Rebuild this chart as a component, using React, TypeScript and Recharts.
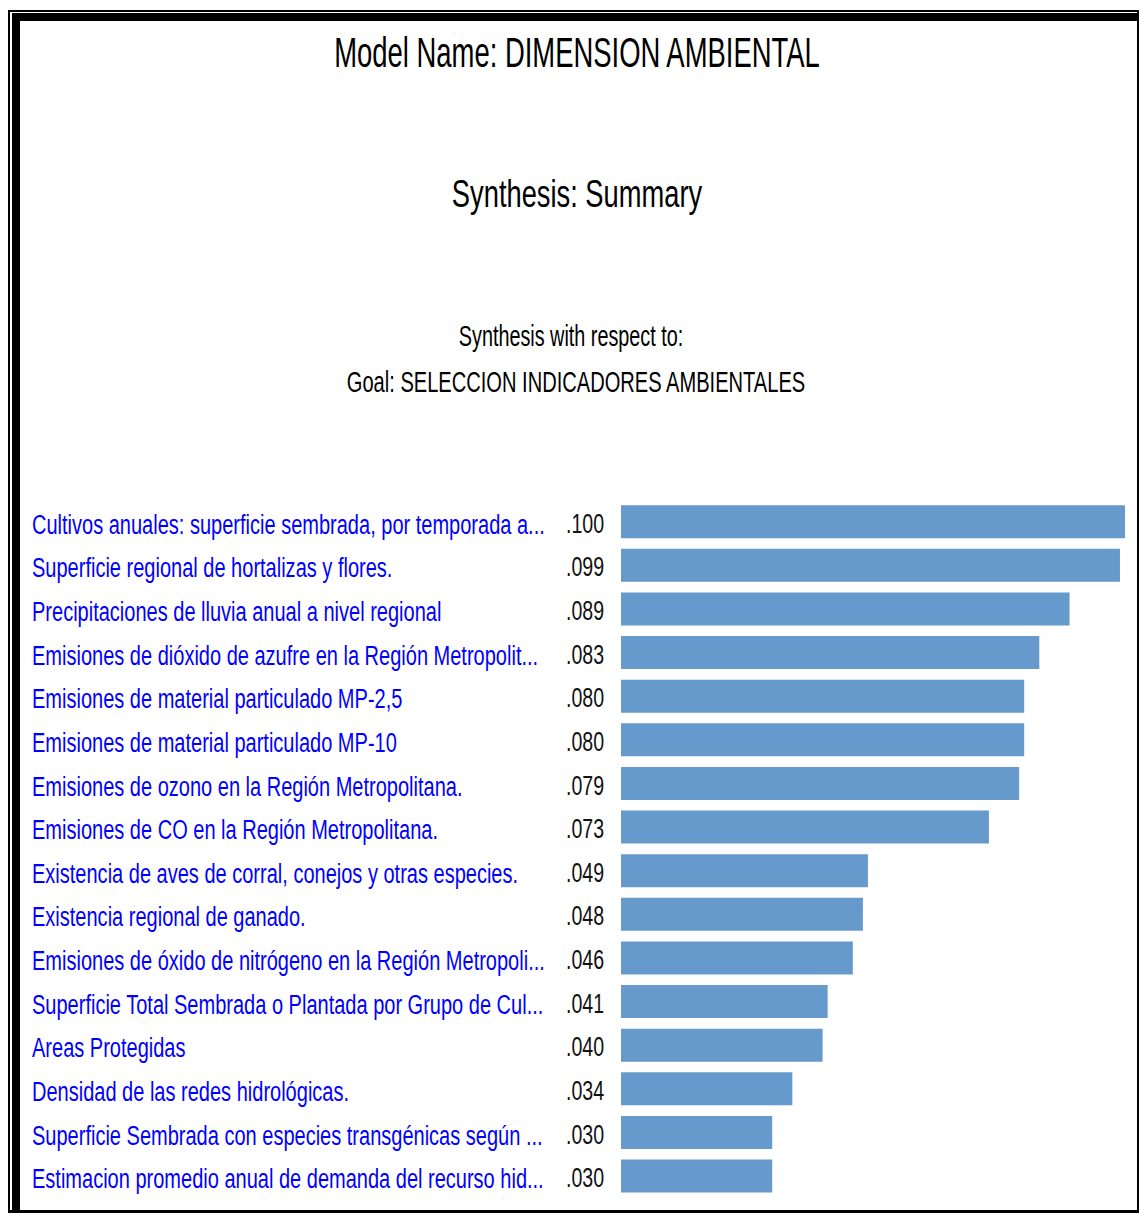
import React from "react";
import { BarChart, Bar, XAxis, YAxis } from "recharts";

const categories: string[] = [
  "Cultivos anuales: superficie sembrada, por temporada a...",
  "Superficie regional de hortalizas y flores.",
  "Precipitaciones de lluvia anual a nivel regional",
  "Emisiones de dióxido de azufre en la Región Metropolit...",
  "Emisiones de material particulado MP-2,5",
  "Emisiones de material particulado MP-10",
  "Emisiones de ozono en la Región Metropolitana.",
  "Emisiones de CO en la Región Metropolitana.",
  "Existencia de aves de corral, conejos y otras especies.",
  "Existencia regional de ganado.",
  "Emisiones de óxido de nitrógeno en la Región Metropoli...",
  "Superficie Total Sembrada o Plantada por Grupo de Cul...",
  "Areas Protegidas",
  "Densidad de las redes hidrológicas.",
  "Superficie Sembrada con especies transgénicas según ...",
  "Estimacion promedio anual de demanda del recurso hid...",
];

const values: number[] = [
  0.1, 0.099, 0.089, 0.083, 0.08, 0.08, 0.079, 0.073, 0.049, 0.048, 0.046,
  0.041, 0.04, 0.034, 0.03, 0.03,
];

const valueLabels: string[] = [
  ".100", ".099", ".089", ".083", ".080", ".080", ".079", ".073", ".049",
  ".048", ".046", ".041", ".040", ".034", ".030", ".030",
];

const titleLines: string[] = [
  "Model Name: DIMENSION AMBIENTAL",
  "Synthesis: Summary",
  "Synthesis with respect to:",
  "Goal: SELECCION INDICADORES AMBIENTALES",
];

const data = categories.map((name, i) => ({
  name,
  value: values[i],
}));

const FONT = '"Liberation Sans", Arial, Helvetica, sans-serif';

const SText = ({
  x,
  y,
  sx,
  size,
  fill,
  anchor,
  children,
}: {
  x: number;
  y: number;
  sx: number;
  size: number;
  fill: string;
  anchor: "start" | "middle" | "end";
  children: React.ReactNode;
}) => (
  <text
    transform={`translate(${x},${y}) scale(${sx},1)`}
    x={0}
    y={0}
    fill={fill}
    fontSize={size}
    fontFamily={FONT}
    textAnchor={anchor}
  >
    {children}
  </text>
);

const Tick = (props: any) => {
  const { y, payload } = props;
  const idx = payload.index;
  return (
    <g>
      <SText x={32} y={y + 12} sx={0.715} size={28} fill="#0000ff" anchor="start">
        {payload.value}
      </SText>
      <SText x={566} y={y + 11} sx={0.7} size={28} fill="#111" anchor="start">
        {valueLabels[idx]}
      </SText>
    </g>
  );
};

export default function App() {
  return (
    <div
      style={{
        position: "absolute",
        left: 0,
        top: 0,
        width: 1139,
        height: 1213,
        background: "#fff",
        overflow: "hidden",
      }}
    >
      <div
        style={{
          position: "absolute",
          left: 8,
          top: 10,
          width: 1131,
          height: 1203,
          boxSizing: "border-box",
          borderLeft: "2px solid #000",
          borderTop: "2px solid #000",
          borderRight: "2px solid #000",
          borderBottom: "3px solid #000",
        }}
      />
      <div
        style={{
          position: "absolute",
          left: 12,
          top: 13,
          width: 1125,
          height: 1197,
          boxSizing: "border-box",
          borderLeft: "8px solid #000",
          borderTop: "8px solid #000",
        }}
      />
      <svg
        width={1139}
        height={420}
        style={{ position: "absolute", left: 0, top: 0 }}
      >
        <SText x={577} y={67} sx={0.653} size={42} fill="#000" anchor="middle">
          {titleLines[0]}
        </SText>
        <SText x={577} y={207} sx={0.7} size={39} fill="#000" anchor="middle">
          {titleLines[1]}
        </SText>
        <SText x={571} y={346} sx={0.66} size={30} fill="#000" anchor="middle">
          {titleLines[2]}
        </SText>
        <SText x={576} y={392} sx={0.67} size={30} fill="#000" anchor="middle">
          {titleLines[3]}
        </SText>
      </svg>
      <div style={{ position: "absolute", left: 0, top: 0 }}>
        <BarChart
          width={1139}
          height={1213}
          data={data}
          layout="vertical"
          margin={{ top: 500, right: 14, bottom: 15, left: 0 }}
          barCategoryGap="12%"
        >
          <XAxis type="number" domain={[0, 0.1]} hide />
          <YAxis
            type="category"
            dataKey="name"
            width={621}
            axisLine={false}
            tickLine={false}
            tick={<Tick />}
            interval={0}
          />
          <Bar dataKey="value" fill="#6699cc" isAnimationActive={false} />
        </BarChart>
      </div>
    </div>
  );
}
